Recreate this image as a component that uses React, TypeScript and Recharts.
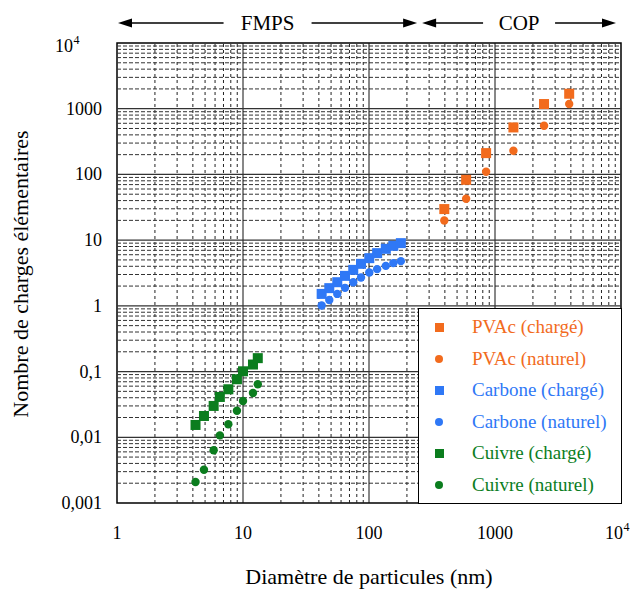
import React from 'react';
import { ScatterChart, Scatter, XAxis, YAxis, ReferenceLine, ReferenceArea, Legend } from 'recharts';

// diamètres (nm) et nombre de charges
const diamPvac = [396, 590, 850, 1400, 2450, 3880];
const pvacCharge = [29.7, 82.8, 211, 519, 1178, 1690];
const pvacNaturel = [19.9, 42.6, 110, 229, 551, 1178];

const diamCarbone = [42.1, 48.4, 56.0, 64.5, 75.0, 86.4, 100.5, 116, 136, 156, 179];
const carboneCharge = [1.52, 1.86, 2.29, 2.86, 3.53, 4.36, 5.32, 6.34, 7.38, 8.19, 9.0];
const carboneNaturel = [1.01, 1.23, 1.52, 1.88, 2.29, 2.7, 3.21, 3.62, 4.06, 4.47, 4.79];

const diamCuivre = [4.2, 4.9, 5.85, 6.55, 7.65, 8.95, 10, 12, 13.1];
const cuivreCharge = [0.0154, 0.0211, 0.03, 0.0411, 0.0538, 0.0764, 0.101, 0.128, 0.16];
const cuivreNaturel = [0.00209, 0.00321, 0.00634, 0.0107, 0.0158, 0.0254, 0.0357, 0.0473, 0.0641];

const xTicks = [1, 10, 100, 1000, 10000];
const yTicks = [0.001, 0.01, 0.1, 1, 10, 100, 1000, 10000];
const yTickLabels = ['0,001', '0,01', '0,1', '1', '10', '100', '1000', '10^4'];
const xTickLabels = ['1', '10', '100', '1000', '10^4'];

// domaines FMPS / COP en haut du graphique
const zones = [
  { name: 'FMPS', from: 1, to: 250 },
  { name: 'COP', from: 250, to: 10000 },
];

const ORANGE = '#f26b1d';
const BLUE = '#2f78f6';
const GREEN = '#0b7d1e';
const FONT = 'Liberation Serif, Times New Roman, serif';

const toPoints = (xs: number[], ys: number[]) => xs.map((x, i) => ({ x, y: ys[i] }));

const series = [
  { name: 'PVAc (chargé)', color: ORANGE, square: true, data: toPoints(diamPvac, pvacCharge) },
  { name: 'PVAc (naturel)', color: ORANGE, square: false, data: toPoints(diamPvac, pvacNaturel) },
  { name: 'Carbone (chargé)', color: BLUE, square: true, data: toPoints(diamCarbone, carboneCharge) },
  { name: 'Carbone (naturel)', color: BLUE, square: false, data: toPoints(diamCarbone, carboneNaturel) },
  { name: 'Cuivre (chargé)', color: GREEN, square: true, data: toPoints(diamCuivre, cuivreCharge) },
  { name: 'Cuivre (naturel)', color: GREEN, square: false, data: toPoints(diamCuivre, cuivreNaturel) },
];

const minors = (decades: number[]) =>
  decades.slice(0, -1).flatMap((d) => [2, 3, 4, 5, 6, 7, 8, 9].map((k) => d * k));

const xMinor = minors(xTicks);
const yMinor = minors(yTicks);

// geometry of the plot box (page pixels)
const PLOT = { left: 117, right: 621, top: 43, bottom: 503 };
const xPix = (v: number) =>
  PLOT.left + ((PLOT.right - PLOT.left) * Math.log10(v)) / Math.log10(xTicks[xTicks.length - 1]);

const makeShape = (color: string, square: boolean) => (props: any) => {
  const { cx, cy } = props;
  if (cx == null || cy == null) return <g />;
  if (square) return <rect x={cx - 5} y={cy - 5} width={10} height={10} fill={color} />;
  return <circle cx={cx} cy={cy} r={4.2} fill={color} />;
};

const Power = ({ x, y }: { x: number; y: number }) => (
  <g fontFamily={FONT} fill="#000">
    <text x={x} y={y} textAnchor="end" fontSize={18}>10</text>
    <text x={x + 0.5} y={y - 8} textAnchor="start" fontSize={12}>4</text>
  </g>
);

const YTick = (props: any) => {
  const { x, y, payload } = props;
  const label = yTickLabels[yTicks.indexOf(payload.value)];
  if (label === '10^4') return <Power x={x - 29} y={y + 9} />;
  return (
    <text x={x} y={y} dy={6} textAnchor="end" fontFamily={FONT} fontSize={18} fill="#000">{label}</text>
  );
};

const XTick = (props: any) => {
  const { x, y, payload } = props;
  const label = xTickLabels[xTicks.indexOf(payload.value)];
  if (label === '10^4') return <Power x={x + 2} y={y + 12} />;
  return (
    <text x={x} y={y} dy={12} textAnchor="middle" fontFamily={FONT} fontSize={18} fill="#000">{label}</text>
  );
};

const XLabel = () => (
  <text x={(PLOT.left + PLOT.right) / 2} y={584} textAnchor="middle" fontFamily={FONT} fontSize={22} fill="#000">
    Diamètre de particules (nm)
  </text>
);

const YLabel = () => {
  const cx = 28;
  const cy = (PLOT.top + PLOT.bottom) / 2 + 1;
  return (
    <text
      x={cx}
      y={cy}
      transform={`rotate(-90, ${cx}, ${cy})`}
      textAnchor="middle"
      fontFamily={FONT}
      fontSize={22}
      fill="#000"
    >
      Nombre de charges élémentaires
    </text>
  );
};

const LegendBox = () => (
  <div
    style={{
      width: '100%',
      height: '100%',
      boxSizing: 'border-box',
      border: '1.5px solid #000',
      background: '#fff',
      position: 'relative',
      fontFamily: FONT,
      fontSize: 19,
    }}
  >
    {series.map((s, i) => (
      <div key={s.name} style={{ position: 'absolute', left: 0, top: 18 + i * 31.6 - 12, height: 24, width: '100%' }}>
        <svg width={30} height={24} style={{ position: 'absolute', left: 5, top: 0 }}>
          {s.square ? (
            <rect x={11} y={8} width={9} height={9} fill={s.color} />
          ) : (
            <circle cx={15} cy={12} r={4} fill={s.color} />
          )}
        </svg>
        <span
          style={{
            position: 'absolute',
            left: 53,
            top: 0,
            lineHeight: '24px',
            color: s.color,
            whiteSpace: 'nowrap',
          }}
        >
          {s.name}
        </span>
      </div>
    ))}
  </div>
);

const Zones = () => (
  <svg width={632} height={40} style={{ position: 'absolute', left: 0, top: 0 }}>
    {zones.map((z) => {
      const a = xPix(z.from) + (z.from === 1 ? 1 : 3);
      const b = xPix(z.to) - (z.to === 10000 ? 5 : 2);
      const mid = (a + b) / 2;
      const half = z.name.length * 8 + 12;
      const yy = 23;
      return (
        <g key={z.name}>
          <line x1={a + 10} y1={yy} x2={mid - half} y2={yy} stroke="#000" strokeWidth={1.3} />
          <line x1={mid + half} y1={yy} x2={b - 10} y2={yy} stroke="#000" strokeWidth={1.3} />
          <polygon points={`${a},${yy} ${a + 14},${yy - 4.5} ${a + 14},${yy + 4.5}`} fill="#000" />
          <polygon points={`${b},${yy} ${b - 14},${yy - 4.5} ${b - 14},${yy + 4.5}`} fill="#000" />
          <text x={mid} y={30} textAnchor="middle" fontFamily={FONT} fontSize={21} fill="#000">{z.name}</text>
        </g>
      );
    })}
  </svg>
);

export default function App() {
  return (
    <div style={{ position: 'absolute', left: 0, top: 0, width: 632, height: 590, background: '#fff' }}>
      <ScatterChart
        width={632}
        height={590}
        margin={{ top: PLOT.top, right: 632 - PLOT.right, bottom: 0, left: 0 }}
      >
        <XAxis
          type="number"
          dataKey="x"
          scale="log"
          domain={[1, 10000]}
          ticks={xTicks}
          allowDataOverflow
          axisLine={false}
          tickLine={false}
          tickSize={0}
          tickMargin={24}
          height={590 - PLOT.bottom}
          tick={<XTick />}
          interval={0}
          label={<XLabel />}
        />
        <YAxis
          type="number"
          dataKey="y"
          scale="log"
          domain={[0.001, 10000]}
          ticks={yTicks}
          allowDataOverflow
          axisLine={false}
          tickLine={false}
          tickSize={0}
          tickMargin={15}
          width={PLOT.left}
          tick={<YTick />}
          interval={0}
          label={<YLabel />}
        />
        {xMinor.map((v) => (
          <ReferenceLine key={'xm' + v} x={v} stroke="#222" strokeWidth={1} strokeDasharray="3 3" />
        ))}
        {yMinor.map((v) => (
          <ReferenceLine key={'ym' + v} y={v} stroke="#333" strokeWidth={1} strokeDasharray="4 2" />
        ))}
        {xTicks.slice(1, -1).map((v) => (
          <ReferenceLine key={'xM' + v} x={v} stroke="#111" strokeWidth={1} />
        ))}
        {yTicks.slice(1, -1).map((v) => (
          <ReferenceLine key={'yM' + v} y={v} stroke="#333" strokeWidth={1.2} />
        ))}
        <ReferenceArea x1={1} x2={10000} y1={0.001} y2={10000} fill="none" stroke="#000" strokeWidth={1.5} />
        {series.map((s) => (
          <Scatter
            key={s.name}
            name={s.name}
            data={s.data}
            fill={s.color}
            shape={makeShape(s.color, s.square)}
            isAnimationActive={false}
          />
        ))}
        <Legend
          layout="vertical"
          align="center"
          verticalAlign="middle"
          wrapperStyle={{ left: 418, top: 308, width: PLOT.right - 418 + 1, height: PLOT.bottom - 308 + 1 }}
          content={() => <LegendBox />}
        />
      </ScatterChart>
      <Zones />
    </div>
  );
}
